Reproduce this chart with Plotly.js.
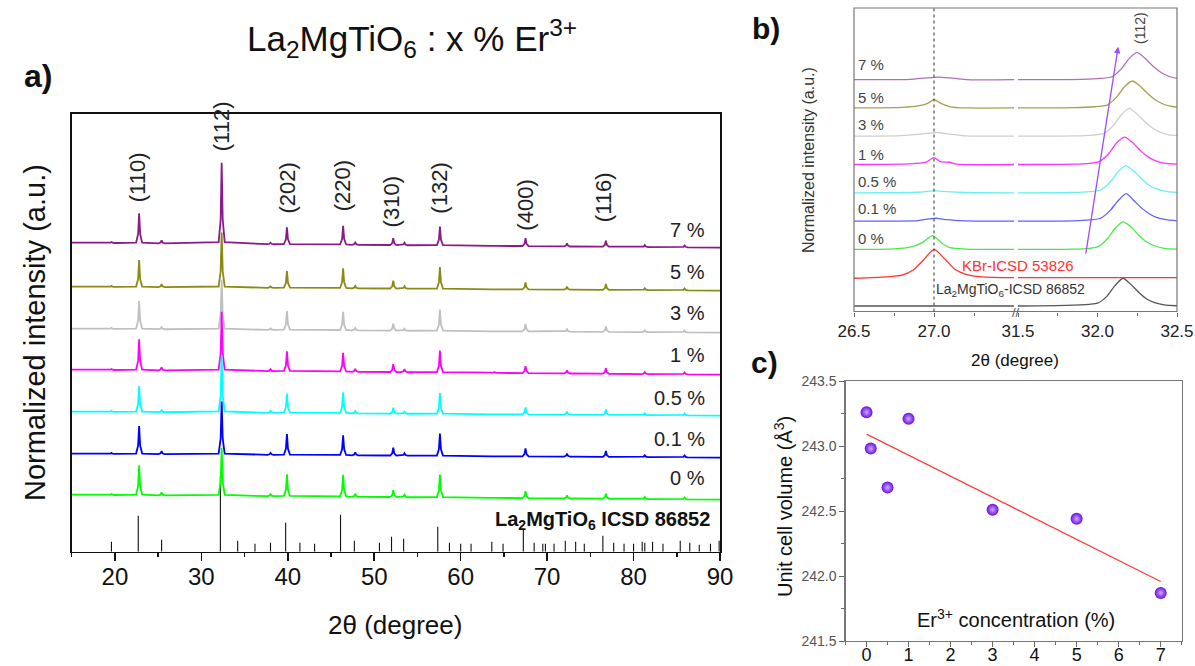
<!DOCTYPE html>
<html>
<head>
<meta charset="utf-8">
<script src="https://cdn.plot.ly/plotly-3.0.1.min.js"></script>
<style>
  html, body { margin: 0; padding: 0; background: #fff; }
  #fig { width: 1195px; height: 666px; }
</style>
</head>
<body>
<div id="fig"></div>
<script>
// ---------- (a) XRD patterns of La2MgTiO6 : x % Er3+ ----------
const SAMPLES = ['0 %', '0.1 %', '0.5 %', '1 %', '3 %', '5 %', '7 %'];
// 2θ positions of the reflections seen in the measured patterns
const PEAK_2THETA = [19.6, 22.8, 25.4, 32.35, 38.0, 39.9, 46.4, 47.8, 52.2, 53.5, 57.6, 63.9, 67.5, 72.3, 76.8, 81.3, 85.9];
// peak heights above background (a.u.), one list per sample
const H_0   = [1, 30, 3, 48, 2, 22, 22, 3, 7, 2.5, 23, 0.5, 7, 3, 5, 2, 2];
const H_0_1 = [1, 28, 3, 53, 2, 21, 20, 3, 8, 2.5, 22.5, 0.5, 8, 3, 6, 2, 2];
const H_0_5 = [1, 26, 2, 57, 2, 19.5, 21, 2.5, 6, 2, 21, 0.5, 7, 3, 5.5, 2, 2];
const H_1   = [1, 31, 3, 59, 2, 20, 19, 3, 8, 3, 22, 1, 7, 3, 5.5, 2, 2];
const H_3   = [1, 28, 2, 50, 1.5, 19, 18.5, 2.5, 7, 2, 21.5, 0.5, 7.5, 2.5, 5.5, 2, 2];
const H_5   = [1, 27, 3, 55, 1.5, 17, 20, 2.5, 8, 2.5, 22, 0.5, 7, 3, 6, 2, 2];
const H_7   = [1, 30, 3, 81, 1.5, 17, 19, 2.5, 7, 2.5, 19, 0.5, 8, 3, 6, 2, 2];
// stacked background level of each pattern at 15° and at 90°
const BASE_START = [57, 98, 140, 182, 223, 265, 309];
const BASE_END   = [52, 94, 136, 177, 219, 261, 304];
// reference pattern La2MgTiO6 ICSD 86852
const ICSD_2THETA = [19.6, 22.7, 25.4, 32.2, 34.2, 36.2, 38.0, 39.75, 41.4, 43.1, 46.1, 47.7, 50.6, 52.0, 53.4, 57.35, 58.7, 60.0, 61.2, 63.6, 64.9, 67.25, 68.5, 69.5, 69.8, 70.8, 72.1, 73.3, 74.3, 76.45, 77.7, 78.9, 80.0, 81.0, 81.3, 82.2, 83.4, 85.4, 86.5, 87.6, 88.9, 89.9];
const ICSD_INT    = [10, 36, 12, 75, 11, 8, 9, 29, 9, 8, 37, 11, 9, 15, 13, 25, 9, 8, 8, 10, 8, 22, 9, 8, 8, 8, 11, 10, 8, 16, 9, 8, 8, 10, 9, 10, 8, 11, 9, 7, 8, 11];
const HKL = ['(110)', '(112)', '(202)', '(220)', '(310)', '(132)', '(400)', '(116)'];
const HKL_2THETA = [22.7, 32.3, 39.85, 46.3, 52.1, 57.45, 67.4, 76.6];

// ---------- (b) zoom on KBr (27°) and (112) reflections ----------
const B_LABELS = ['La<sub>2</sub>MgTiO<sub>6</sub>-ICSD', 'KBr-ICSD', '0 %', '0.1 %', '0.5 %', '1 %', '3 %', '5 %', '7 %'];
const B_LA_L  = [[26.5,0],[27.5,0]];
const B_LA_R  = [[31.5,0],[31.8,0.02],[31.95,0.06],[32.0,0.1],[32.06,0.35],[32.11,0.72],[32.16,0.98],[32.21,0.76],[32.26,0.48],[32.31,0.25],[32.36,0.12],[32.42,0.04],[32.5,0.01]];
const B_KBR_L = [[26.5,-0.02],[26.7,0.03],[26.8,0.09],[26.87,0.27],[26.93,0.6],[27.0,1.0],[27.07,0.65],[27.13,0.3],[27.2,0.12],[27.3,0.03],[27.5,0]];
const B_KBR_R = [[31.5,0],[32.5,0]];
const B_0_L   = [[26.5,0],[26.75,0.02],[26.85,0.08],[26.93,0.25],[26.99,0.49],[27.05,0.22],[27.1,0.06],[27.2,0.01],[27.5,0]];
const B_0_R   = [[31.5,0],[31.85,0.01],[31.95,0.04],[32.0,0.09],[32.06,0.36],[32.11,0.74],[32.16,0.97],[32.21,0.8],[32.26,0.5],[32.31,0.26],[32.36,0.12],[32.42,0.04],[32.5,0.01]];
const B_01_L  = [[26.5,0],[26.9,0.02],[26.97,0.08],[27.02,0.1],[27.08,0.05],[27.2,0.01],[27.5,0]];
const B_01_R  = [[31.5,0],[31.85,0.01],[31.95,0.04],[32.02,0.1],[32.08,0.38],[32.13,0.72],[32.18,0.97],[32.23,0.72],[32.28,0.45],[32.33,0.24],[32.38,0.11],[32.44,0.04],[32.5,0.01]];
const B_05_L  = [[26.5,0],[26.9,0.02],[26.97,0.06],[27.02,0.07],[27.08,0.04],[27.2,0.01],[27.5,0]];
const B_05_R  = [[31.5,0],[31.85,0.01],[31.95,0.04],[32.02,0.1],[32.08,0.38],[32.13,0.75],[32.18,0.96],[32.23,0.76],[32.28,0.48],[32.33,0.25],[32.38,0.12],[32.44,0.04],[32.5,0.01]];
const B_1_L   = [[26.5,0],[26.85,0.02],[26.95,0.08],[27.0,0.24],[27.04,0.1],[27.1,0.08],[27.14,0.01],[27.5,0]];
const B_1_R   = [[31.5,0],[31.85,0.01],[31.95,0.04],[32.01,0.1],[32.07,0.38],[32.12,0.76],[32.17,0.97],[32.22,0.78],[32.27,0.49],[32.32,0.26],[32.37,0.12],[32.43,0.04],[32.5,0.01]];
const B_3_L   = [[26.5,0],[26.8,0.02],[26.93,0.08],[27.02,0.13],[27.1,0.07],[27.2,0.01],[27.5,0]];
const B_3_R   = [[31.5,0],[31.85,0.01],[31.97,0.04],[32.04,0.1],[32.1,0.38],[32.15,0.76],[32.2,0.98],[32.25,0.78],[32.3,0.5],[32.35,0.27],[32.4,0.13],[32.45,0.05],[32.5,0.02]];
const B_5_L   = [[26.5,0],[26.8,0.02],[26.9,0.07],[26.96,0.16],[27.0,0.29],[27.05,0.14],[27.1,0.04],[27.2,0],[27.5,0]];
const B_5_R   = [[31.5,0],[31.85,0.01],[31.98,0.04],[32.06,0.1],[32.12,0.38],[32.17,0.75],[32.22,0.95],[32.27,0.76],[32.32,0.48],[32.37,0.26],[32.42,0.12],[32.47,0.05],[32.5,0.03]];
const B_7_L   = [[26.5,0],[26.85,0.01],[26.95,0.06],[27.03,0.09],[27.1,0.06],[27.2,0],[27.5,0]];
const B_7_R   = [[31.5,0],[31.9,0.01],[32.02,0.04],[32.09,0.1],[32.15,0.38],[32.2,0.75],[32.25,0.95],[32.3,0.75],[32.35,0.47],[32.4,0.25],[32.45,0.11],[32.5,0.04]];

// ---------- (c) unit cell volume vs Er3+ content ----------
const ER_CONC = [0, 0.1, 0.5, 1, 3, 5, 7];
const CELL_VOLUME = [243.26, 242.98, 242.68, 243.21, 242.51, 242.44, 241.87];

// ---------- drawing ----------
const W = 1195, H = 666;
const px = v => v / W;
const py = v => 1 - v / H;
const FONT = 'Liberation Sans, Arial, Helvetica, sans-serif';

const COLORS_A = ['#00ff00', '#0000ff', '#00ffff', '#ff00ff', '#c0c0c0', '#8c8a16', '#8b1a89'];
const COLORS_B = ['#555555', '#ff3333', '#4be84b', '#6262ff', '#66f0f0', '#ff33ff', '#cfcfcf', '#a3a050', '#b070b0'];
const HEIGHTS = [H_0, H_0_1, H_0_5, H_1, H_3, H_5, H_7];
// peak outline used to draw each reflection (offset in degrees, fraction of height)
const PEAK_OUTLINE = [[-0.35, 0.02], [-0.12, 0.3], [0, 1], [0.12, 0.3], [0.35, 0.02]];

const traces = [];

// reference sticks
const sx = [], sy = [];
ICSD_2THETA.forEach((t, i) => { sx.push(t, t, null); sy.push(0, ICSD_INT[i], null); });
traces.push({ x: sx, y: sy, xaxis: 'x', yaxis: 'y', mode: 'lines', line: { color: '#111', width: 1.1 }, hoverinfo: 'skip', showlegend: false });

// sample patterns (highest concentration first so lower patterns sit on top)
for (let k = SAMPLES.length - 1; k >= 0; k--) {
  const b0 = BASE_START[k], b1 = BASE_END[k], h = HEIGHTS[k];
  const bg = t => b0 + (b1 - b0) * (t - 15) / 75;
  const xs = [15], ys = [b0];
  PEAK_2THETA.forEach((p, i) => {
    PEAK_OUTLINE.forEach(([dx, f]) => { xs.push(p + dx); ys.push(bg(p + dx) + f * h[i]); });
  });
  xs.push(90); ys.push(b1);
  traces.push({ x: xs, y: ys, xaxis: 'x', yaxis: 'y', mode: 'lines', name: SAMPLES[k],
    line: { color: COLORS_A[k], width: 1.8 }, showlegend: false });
}

// panel (b) curves, offset by one unit each
const B_LEFT = [B_LA_L, B_KBR_L, B_0_L, B_01_L, B_05_L, B_1_L, B_3_L, B_5_L, B_7_L];
const B_RIGHT = [B_LA_R, B_KBR_R, B_0_R, B_01_R, B_05_R, B_1_R, B_3_R, B_5_R, B_7_R];
B_LEFT.forEach((seg, k) => {
  [[seg, 'x2'], [B_RIGHT[k], 'x3']].forEach(([pts, ax]) => {
    traces.push({ x: pts.map(p => p[0]), y: pts.map(p => p[1] + k), xaxis: ax, yaxis: 'y2',
      mode: 'lines', line: { color: COLORS_B[k], width: 1.3, shape: 'spline', smoothing: 0.6 },
      name: B_LABELS[k], showlegend: false });
  });
});

// panel (c): linear fit and points
const n = ER_CONC.length;
const mx = ER_CONC.reduce((a, b) => a + b, 0) / n;
const my = CELL_VOLUME.reduce((a, b) => a + b, 0) / n;
let sxy = 0, sxx = 0;
ER_CONC.forEach((x, i) => { sxy += (x - mx) * (CELL_VOLUME[i] - my); sxx += (x - mx) * (x - mx); });
const slope = sxy / sxx, icpt = my - slope * mx;
const fitX = [ER_CONC[0], ER_CONC[n - 1]];
traces.push({ x: fitX, y: fitX.map(x => icpt + slope * x), xaxis: 'x4', yaxis: 'y4', mode: 'lines',
  line: { color: '#ff3b3b', width: 1.2 }, showlegend: false });
traces.push({ x: ER_CONC, y: CELL_VOLUME, xaxis: 'x4', yaxis: 'y4', mode: 'markers',
  marker: { size: 12, color: '#6a0ee0', gradient: { type: 'radial', color: '#cfa8ff' }, line: { width: 0 } },
  showlegend: false });

const ann = [];
const txt = (x, y, text, size, extra) => ann.push(Object.assign({ x, y, xref: 'paper', yref: 'paper', text,
  xanchor: 'center', yanchor: 'middle', showarrow: false, font: { family: FONT, size, color: '#111' } }, extra || {}));

txt(px(412), py(38), 'La<sub>2</sub>MgTiO<sub>6</sub> : x % Er<sup>3+</sup>', 35);
txt(px(38), py(76), '<b>a)</b>', 32);
txt(px(766), py(28), '<b>b)</b>', 30);
txt(px(764), py(362), '<b>c)</b>', 30);
txt(px(35), py(333), 'Normalized intensity (a.u.)', 29, { textangle: -90 });
txt(px(395), py(625), '2θ (degree)', 26);

// hkl labels over the reflections
const HKL_Y = [177, 126, 188, 186, 202, 188, 205, 197];
HKL.forEach((s, i) => ann.push({ x: HKL_2THETA[i], y: py(HKL_Y[i]), xref: 'x', yref: 'paper', text: s,
  xanchor: 'center', yanchor: 'middle', textangle: -90, showarrow: false, font: { family: FONT, size: 22, color: '#222' } }));

// concentration labels in (a)
const A_LABEL_Y = [478, 439, 398, 355, 313, 272, 230];
SAMPLES.forEach((s, k) => txt(px(707), py(A_LABEL_Y[k]), s, 20, { xanchor: 'right', font: { family: FONT, size: 20, color: '#222' } }));
txt(px(712), py(520), '<b>La<sub>2</sub>MgTiO<sub>6</sub> ICSD 86852</b>', 20, { xanchor: 'right' });

// panel (b) labels
const B_LABEL_Y = [239, 209, 182, 154, 125, 97, 65];
SAMPLES.forEach((s, k) => txt(px(856), py(B_LABEL_Y[k]), s, 15, { xanchor: 'left', font: { family: FONT, size: 15, color: '#444' } }));
txt(px(1140), py(28), '(112)', 14, { textangle: -90, font: { family: FONT, size: 14, color: '#444' } });
txt(px(1018), py(265), 'KBr-ICSD 53826', 15, { font: { family: FONT, size: 15, color: '#ff3333' } });
txt(px(1010), py(290), 'La<sub>2</sub>MgTiO<sub>6</sub>-ICSD 86852', 14, { font: { family: FONT, size: 14, color: '#333' } });
txt(px(1016), py(312), '//', 13, { font: { family: FONT, size: 13, color: '#555' } });
txt(px(808), py(160), 'Normalized intensity (a.u.)', 16, { textangle: -90, font: { family: FONT, size: 16, color: '#333' } });
txt(px(1015), py(360), '2θ (degree)', 17);
ann.push({ x: 32.13, y: 9.16, xref: 'x3', yref: 'y2', ax: 31.925, ay: 1.8, axref: 'x3', ayref: 'y2',
  text: '', showarrow: true, arrowhead: 2, arrowsize: 1, arrowwidth: 1.3, arrowcolor: '#9e4cff' });

// panel (c) labels
txt(px(783), py(507), 'Unit cell volume (Å<sup>3</sup>)', 20, { textangle: -90 });
txt(px(1016), py(618), 'Er<sup>3+</sup> concentration (%)', 20);

const noGrid = { showgrid: false, zeroline: false };
const layout = {
  width: W, height: H,
  margin: { l: 0, r: 0, t: 0, b: 0 },
  paper_bgcolor: '#fff', plot_bgcolor: 'rgba(0,0,0,0)',
  font: { family: FONT, color: '#111' },
  showlegend: false,
  xaxis: Object.assign({ domain: [px(71.7), px(720)], range: [15, 90], anchor: 'y',
    tickmode: 'linear', tick0: 0, dtick: 10, ticks: 'outside', ticklen: 8, tickwidth: 1.5, tickcolor: '#111',
    ticklabelstandoff: -5,
    minor: { dtick: 5, ticks: 'outside', ticklen: 4, tickwidth: 1.5, tickcolor: '#111' },
    showline: true, mirror: true, linecolor: '#111', linewidth: 1.5,
    tickfont: { family: FONT, size: 24, color: '#111' } }, noGrid),
  yaxis: Object.assign({ domain: [py(551.7), py(113.7)], range: [0, 438], anchor: 'x',
    showticklabels: false, ticks: '', showline: true, mirror: true, linecolor: '#111', linewidth: 1.5 }, noGrid),
  xaxis2: Object.assign({ domain: [px(854), px(1014)], range: [26.5, 27.5], anchor: 'y2',
    tickmode: 'array', tickvals: [26.5, 27.0], ticktext: ['26.5', '27.0'], ticks: 'outside', ticklen: 4, tickcolor: '#666',
    minor: { tickmode: 'array', tickvals: [26.75, 27.25], ticks: 'outside', ticklen: 3, tickcolor: '#666' },
    showline: false, tickfont: { family: FONT, size: 17, color: '#222' } }, noGrid),
  xaxis3: Object.assign({ domain: [px(1018), px(1177)], range: [31.5, 32.5], anchor: 'y2',
    tickmode: 'array', tickvals: [31.5, 32.0, 32.5], ticktext: ['31.5', '32.0', '32.5'], ticks: 'outside', ticklen: 4, tickcolor: '#666',
    minor: { tickmode: 'array', tickvals: [31.75, 32.25], ticks: 'outside', ticklen: 3, tickcolor: '#666' },
    showline: false, tickfont: { family: FONT, size: 17, color: '#222' } }, noGrid),
  yaxis2: Object.assign({ domain: [py(311.5), py(8)], range: [-0.194, 10.53], anchor: 'x2',
    showticklabels: false, ticks: '', showline: false }, noGrid),
  xaxis4: Object.assign({ domain: [px(845.5), px(1181.7)], range: [-0.5, 7.5], anchor: 'y4',
    tickmode: 'linear', tick0: 0, dtick: 1, ticks: 'outside', ticklen: 5, tickcolor: '#666',
    ticklabelstandoff: -8,
    minor: { dtick: 0.5, ticks: 'outside', ticklen: 3, tickcolor: '#666' },
    showline: true, mirror: true, linecolor: '#777', linewidth: 1.2,
    tickfont: { family: FONT, size: 18, color: '#111' } }, noGrid),
  yaxis4: Object.assign({ domain: [py(641), py(381)], range: [241.5, 243.5], anchor: 'x4',
    tickmode: 'linear', tick0: 241.5, dtick: 0.5, tickformat: '.1f', ticks: 'outside', ticklen: 5, tickcolor: '#666',
    minor: { dtick: 0.25, ticks: 'outside', ticklen: 3, tickcolor: '#666' },
    showline: true, mirror: true, linecolor: '#777', linewidth: 1.2,
    tickfont: { family: FONT, size: 14, color: '#555' } }, noGrid),
  shapes: [
    { type: 'rect', xref: 'paper', yref: 'paper', x0: px(854), x1: px(1177), y0: py(311.5), y1: py(8),
      line: { color: '#777', width: 1.2 } },
    { type: 'line', xref: 'x2', yref: 'paper', x0: 27, x1: 27, y0: py(311.5), y1: py(8),
      line: { color: '#333', width: 1, dash: 'dot' } }
  ],
  annotations: ann
};

Plotly.newPlot('fig', traces, layout, { staticPlot: true, displayModeBar: false });
</script>
</body>
</html>
